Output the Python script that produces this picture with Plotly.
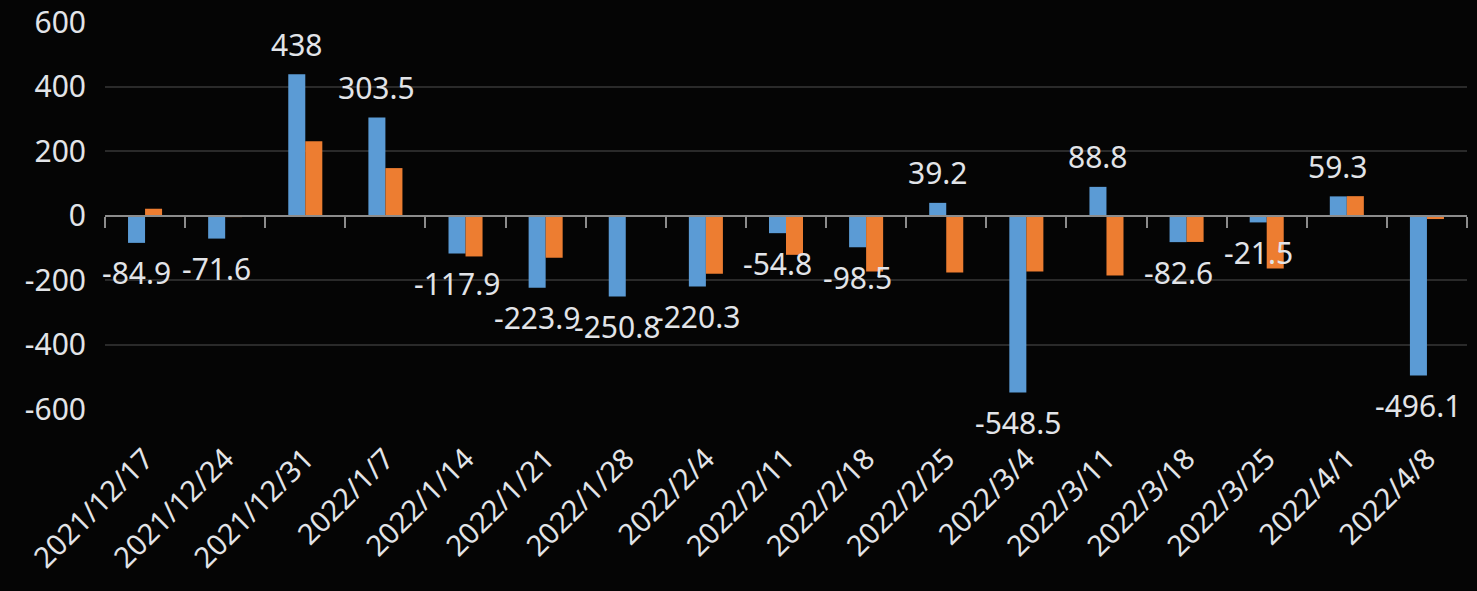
import plotly.graph_objects as go

dates = ["2021/12/17", "2021/12/24", "2021/12/31", "2022/1/7", "2022/1/14",
         "2022/1/21", "2022/1/28", "2022/2/4", "2022/2/11", "2022/2/18",
         "2022/2/25", "2022/3/4", "2022/3/11", "2022/3/18", "2022/3/25",
         "2022/4/1", "2022/4/8"]
series_a = [-84.9, -71.6, 438, 303.5, -117.9, -223.9, -250.8, -220.3, -54.8,
            -98.5, 39.2, -548.5, 88.8, -82.6, -21.5, 59.3, -496.1]
series_b = [21, -5, 230, 147, -127, -131, None, -181, -122, -174, -177, -174,
            -186, -82, -164, 60, -11]
y_ticks = [-600, -400, -200, 0, 200, 400, 600]
y_tick_text = ["-600", "-400", "-200", "0", "200", "400", "600"]

FONT = "Noto Sans"
TXT = "#E2E4E8"
BG = "#050505"

fig = go.Figure()
fig.add_trace(go.Bar(x=dates, y=series_a, marker=dict(color="#5B9BD5", line=dict(width=0)),
                     showlegend=False, hoverinfo="x+y"))
fig.add_trace(go.Bar(x=dates, y=series_b, marker=dict(color="#ED7D31", line=dict(width=0)),
                     showlegend=False, hoverinfo="x+y"))
# invisible trace carrying the zero-line category axis
fig.add_trace(go.Scatter(x=dates, y=[0] * len(dates), xaxis="x2", mode="lines",
                         line=dict(width=0), opacity=0, showlegend=False, hoverinfo="skip"))

annotations = []
for d, v in zip(dates, series_a):
    annotations.append(dict(
        x=d, y=v, xref="x", yref="y", text=f"{v:g}", showarrow=False,
        xshift=-8.5, yshift=30 if v >= 0 else -30, yanchor="middle",
        font=dict(family=FONT, size=30, color=TXT)))

fig.update_layout(
    width=1477, height=591,
    paper_bgcolor=BG, plot_bgcolor=BG,
    margin=dict(l=105, r=10, t=22, b=182, autoexpand=False),
    barmode="group", bargap=0.575, bargroupgap=0,
    annotations=annotations,
    xaxis=dict(type="category", categoryorder="array", categoryarray=dates,
               range=[-0.5, len(dates) - 0.5], showgrid=False, showline=False,
               zeroline=False, ticks="", tickangle=-45, ticklabelstandoff=26,
               automargin=False,
               tickfont=dict(family=FONT, size=29, color=TXT)),
    xaxis2=dict(type="category", categoryorder="array", categoryarray=dates,
                range=[-0.5, len(dates) - 0.5], overlaying="x", anchor="free",
                position=0.5, side="bottom", showline=True, linecolor="#8C8C8C",
                linewidth=2, ticks="outside", tickson="boundaries", ticklen=11,
                tickwidth=2, tickcolor="#8C8C8C", showticklabels=False,
                showgrid=False, zeroline=False, automargin=False),
    yaxis=dict(range=[-600, 600], tickvals=y_ticks, ticktext=y_tick_text,
               showgrid=True, gridcolor="#2A2A2A", gridwidth=2, zeroline=False,
               showline=False, ticks="", ticklabelstandoff=18, automargin=False,
               tickfont=dict(family=FONT, size=30, color=TXT)),
)

fig.write_html(
    "out.html",
    config={"displayModeBar": False},
    post_script="document.body.style.margin='0';document.body.style.background='" + BG + "';",
)
